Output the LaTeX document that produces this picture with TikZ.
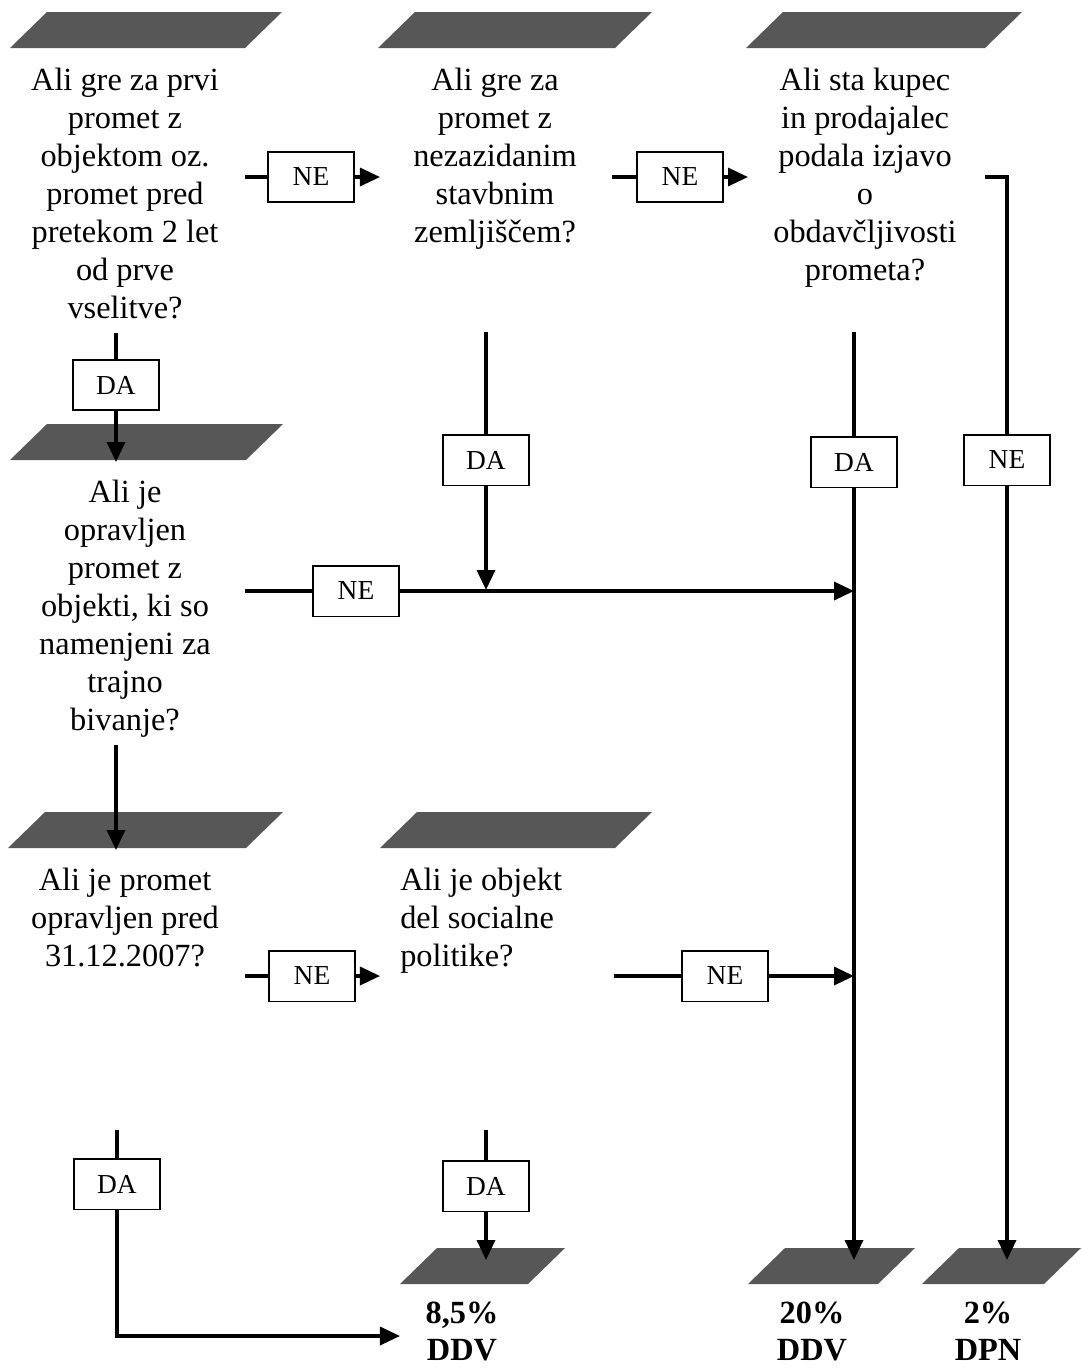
\documentclass[tikz,border=0pt]{standalone}
\usepackage{fontspec}
\setmainfont{Liberation Serif}
\usetikzlibrary{arrows.meta,positioning}

% siva plosca nad vprasanjem
\newcommand{\ploscica}[3]{\fill[plosca] (#1+37,#2) -- (#3,#2) -- (#3-37,#2+36) -- (#1,#2+36) -- cycle;}

\begin{document}
\begin{tikzpicture}[x=0.025cm, y=-0.025cm,
    vprasanje/.style={align=center, font=\fontsize{23}{27}\selectfont, inner sep=0pt, anchor=north},
    rezultat/.style={align=center, font=\bfseries\fontsize{23}{26}\selectfont, inner sep=0pt, anchor=north},
    oznaka/.style={draw, fill=white, line width=1.3pt, minimum width=2.15cm, minimum height=1.27cm,
        font=\fontsize{19.5}{21}\selectfont, inner sep=0pt},
    plosca/.style={fill=black!66},
    crta/.style={line width=2.4pt},
    puscica/.style={line width=2.4pt, -{Triangle[length=0.5cm,width=0.45cm]}}]
    \useasboundingbox (0,0) rectangle (1081,1369);

    % Plosce
    \ploscica{10}{12}{282}
    \ploscica{378}{12}{652}
    \ploscica{746}{12}{1022}
    \ploscica{10}{424}{283}
    \ploscica{8}{812}{283}
    \ploscica{380}{812}{652}
    \ploscica{400}{1248}{565}
    \ploscica{748}{1248}{915}
    \ploscica{922}{1248}{1081}

    % Vprasanja
    \node[vprasanje] (v1) at (125,68) {Ali gre za prvi\\promet z\\objektom oz.\\promet pred\\pretekom 2 let\\od prve\\vselitve?};
    \node[vprasanje] (v2) at (495,68) {Ali gre za\\promet z\\nezazidanim\\stavbnim\\zemljiščem?};
    \node[vprasanje] (v3) at (865,68) {Ali sta kupec\\in prodajalec\\podala izjavo\\o\\obdavčljivosti\\prometa?};
    \node[vprasanje] (v4) at (125,480) {Ali je\\opravljen\\promet z\\objekti, ki so\\namenjeni za\\trajno\\bivanje?};
    \node[vprasanje] (v5) at (125,868) {Ali je promet\\opravljen pred\\31.12.2007?};
    \node[vprasanje, align=left, anchor=north west] (v6) at (400,868) {Ali je objekt\\del socialne\\politike?};

    % Rezultati
    \node[rezultat] (r1) at (462,1302) {8,5\%\\DDV};
    \node[rezultat] (r2) at (812,1302) {20\%\\DDV};
    \node[rezultat] (r3) at (988,1302) {2\%\\DPN};

    % Odgovori
    \node[oznaka] (ne1) at (311,177) {NE};
    \node[oznaka] (ne2) at (680,177) {NE};
    \node[oznaka] (da1) at (116,385) {DA};
    \node[oznaka] (da2) at (486,460) {DA};
    \node[oznaka] (da3) at (854,462) {DA};
    \node[oznaka] (ne3) at (1007,460) {NE};
    \node[oznaka] (ne4) at (356,591) {NE};
    \node[oznaka] (ne5) at (312,976) {NE};
    \node[oznaka] (ne6) at (725,976) {NE};
    \node[oznaka] (da4) at (117,1184) {DA};
    \node[oznaka] (da5) at (486,1186) {DA};

    % Proste tocke
    \coordinate (z1) at (245,177);  \coordinate (k1) at (380,177);
    \coordinate (z2) at (612,177);  \coordinate (k2) at (748,177);
    \coordinate (z3) at (116,333);  \coordinate (k3) at (116,462);
    \coordinate (z4) at (486,332);  \coordinate (k4) at (486,590);
    \coordinate (z5) at (854,332);  \coordinate (k5) at (854,1260);
    \coordinate (z6) at (985,177);  \coordinate (k6) at (1007,1260);
    \coordinate (z7) at (245,591);  \coordinate (k7) at (854,591);
    \coordinate (z8) at (116,745);  \coordinate (k8) at (116,850);
    \coordinate (z9) at (245,976);  \coordinate (k9) at (380,976);
    \coordinate (z10) at (614,976); \coordinate (k10) at (854,976);
    \coordinate (z11) at (117,1130); \coordinate (k11) at (400,1336);
    \coordinate (z12) at (486,1130); \coordinate (k12) at (486,1260);

    % Povezave
    \draw[crta] (z1) -- (ne1);  \draw[puscica] (ne1) -- (k1);
    \draw[crta] (z2) -- (ne2);  \draw[puscica] (ne2) -- (k2);
    \draw[crta] (z3) -- (da1);  \draw[puscica] (da1) -- (k3);
    \draw[crta] (z4) -- (da2);  \draw[puscica] (da2) -- (k4);
    \draw[crta] (z5) -- (da3);  \draw[puscica] (da3) -- (k5);
    \draw[crta] (z6) -| (ne3);  \draw[puscica] (ne3) -- (k6);
    \draw[crta] (z7) -- (ne4);  \draw[puscica] (ne4) -- (k7);
    \draw[puscica] (z8) -- (k8);
    \draw[crta] (z9) -- (ne5);  \draw[puscica] (ne5) -- (k9);
    \draw[crta] (z10) -- (ne6); \draw[puscica] (ne6) -- (k10);
    \draw[crta] (z11) -- (da4); \draw[puscica] (da4.south) |- (k11);
    \draw[crta] (z12) -- (da5); \draw[puscica] (da5) -- (k12);
\end{tikzpicture}
\end{document}
